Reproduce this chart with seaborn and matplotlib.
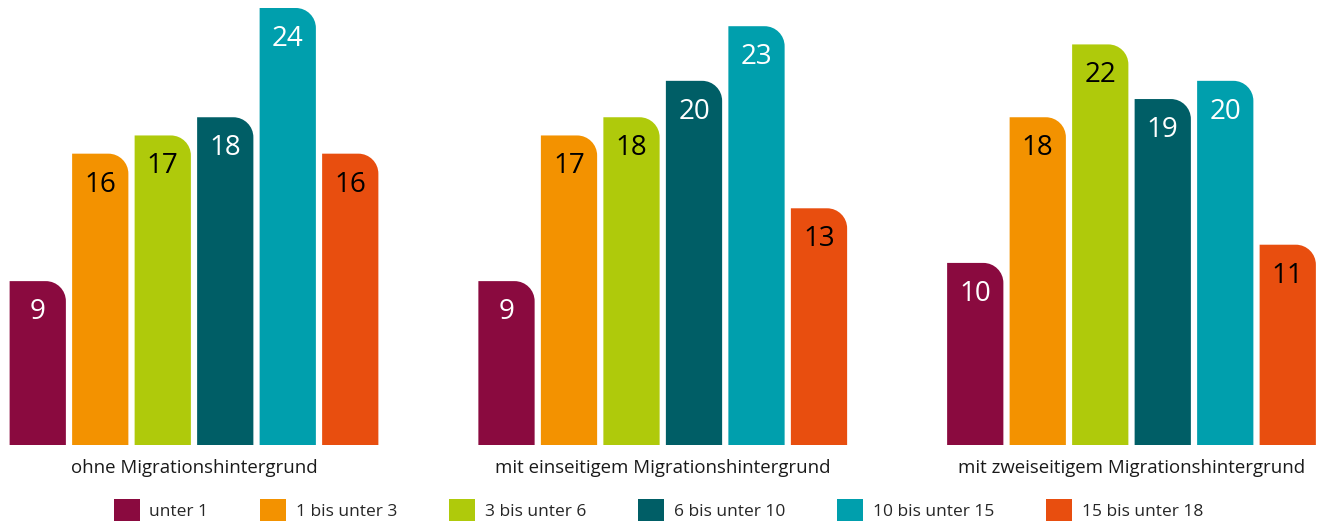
import numpy as np
import pandas as pd
import matplotlib
matplotlib.use("Agg")
import matplotlib.pyplot as plt
import seaborn as sns
from matplotlib.path import Path
from matplotlib.patches import PathPatch, Patch

# Daten
gruppen = ["ohne Migrationshintergrund",
           "mit einseitigem Migrationshintergrund",
           "mit zweiseitigem Migrationshintergrund"]
alter = ["unter 1", "1 bis unter 3", "3 bis unter 6",
         "6 bis unter 10", "10 bis unter 15", "15 bis unter 18"]
werte_ohne = [9, 16, 17, 18, 24, 16]
werte_einseitig = [9, 17, 18, 20, 23, 13]
werte_zweiseitig = [10, 18, 22, 19, 20, 11]

farben = ["#8A0A3F", "#F39200", "#AFCA0B", "#005E66", "#009FAD", "#E84E0F"]
textfarben = ["white", "black", "black", "white", "white", "black"]

rows = []
for g, vals in zip(gruppen, [werte_ohne, werte_einseitig, werte_zweiseitig]):
    for a, v in zip(alter, vals):
        rows.append({"Gruppe": g, "Alter": a, "Wert": v})
df = pd.DataFrame(rows)

sns.set_style("white")
plt.rcParams["font.family"] = ["Open Sans", "DejaVu Sans"]

W, H = 1317, 523
fig = plt.figure(figsize=(W / 100, H / 100), dpi=100)
bottom_px = 445
ax = fig.add_axes([0, (H - bottom_px) / H, 1, bottom_px / H])

sns.barplot(data=df, x="Gruppe", y="Wert", hue="Alter", hue_order=alter,
            palette=farben, gap=0.1, width=0.8, legend=False, ax=ax,
            saturation=1)

px_per_x = 468.75
px_per_y = 437 / 24
xmin = -194 / px_per_x
ax.set_xlim(xmin, xmin + W / px_per_x)
ax.set_ylim(0, bottom_px / px_per_y)

# Balken durch Pfade mit abgerundeter Ecke oben rechts ersetzen
r = 20
rx, ry = r / px_per_x, r / px_per_y
k = 0.5523
for i, cont in enumerate(ax.containers):
    for bar in cont:
        x, w, h = bar.get_x(), bar.get_width(), bar.get_height()
        verts = [(x, 0), (x + w, 0), (x + w, h - ry),
                 (x + w, h - ry + k * ry), (x + w - rx + k * rx, h), (x + w - rx, h),
                 (x, h), (x, 0)]
        codes = [Path.MOVETO, Path.LINETO, Path.LINETO,
                 Path.CURVE4, Path.CURVE4, Path.CURVE4,
                 Path.LINETO, Path.CLOSEPOLY]
        ax.add_patch(PathPatch(Path(verts, codes), facecolor=farben[i],
                               edgecolor="none"))
        bar.set_visible(False)
        ax.text(x + w / 2, h - 31 / px_per_y, f"{int(h)}", ha="center",
                va="center", fontsize=20, color=textfarben[i])

sns.despine(ax=ax, left=True, bottom=True)
ax.set_yticks([])
ax.set_xlabel("")
ax.set_ylabel("")
ax.tick_params(axis="x", length=0, pad=10, labelsize=13.4, labelcolor="#1a1a1a")

handles = [Patch(facecolor=c, edgecolor="none") for c in farben]
fig.legend(handles, alter, loc="center", bbox_to_anchor=(0.5, 1 - 510 / H),
           ncol=6, frameon=False, fontsize=12.5, handlelength=1.5,
           handleheight=1.5, handletextpad=0.55, columnspacing=3.0)

fig.savefig("out.png", dpi=100)
